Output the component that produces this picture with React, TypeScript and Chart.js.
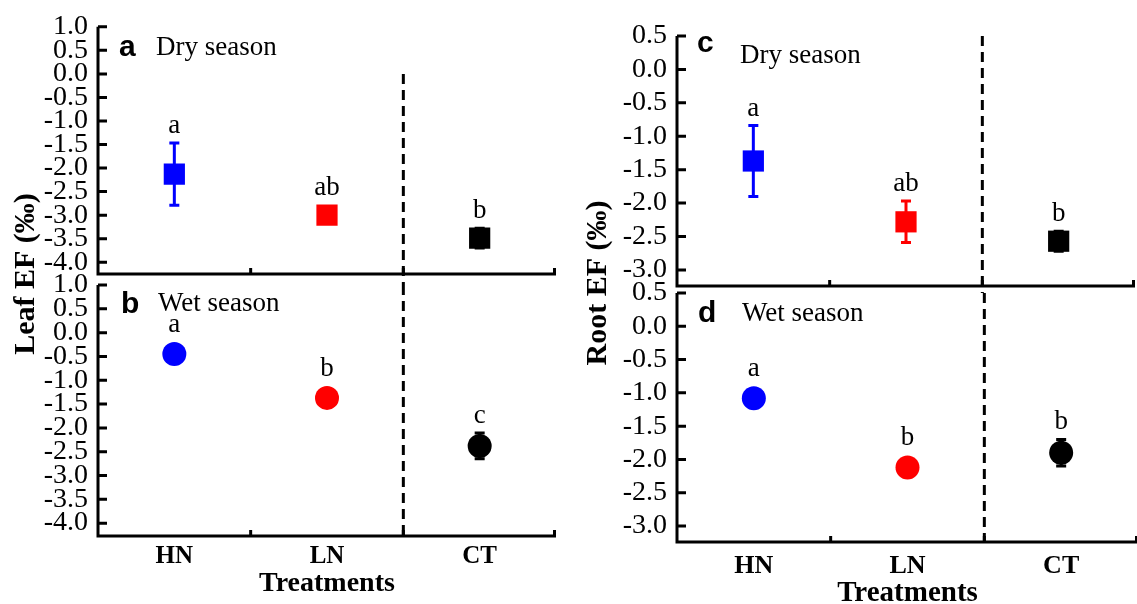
import React, { useEffect, useRef } from 'react';
import { Chart, registerables } from 'chart.js';

Chart.register(...registerables);

const SERIF = '"Liberation Serif", "Times New Roman", serif';
const SANS = '"Liberation Sans", Arial, sans-serif';

// ---- data ----
const treatments = ['HN', 'LN', 'CT'];
const pointColors = ['#0000ff', '#ff0000', '#000000'];

const leafDryMean = [-2.13, -3.0, -3.49];
const leafDryErr = [0.66, 0.15, 0.21];
const leafDryLetters = ['a', 'ab', 'b'];

const leafWetMean = [-0.45, -1.37, -2.38];
const leafWetErr = [0.12, 0.12, 0.27];
const leafWetLetters = ['a', 'b', 'c'];

const rootDryMean = [-1.37, -2.28, -2.57];
const rootDryErr = [0.53, 0.31, 0.15];
const rootDryLetters = ['a', 'ab', 'b'];

const rootWetMean = [-1.08, -2.12, -1.9];
const rootWetErr = [0.1, 0.1, 0.2];
const rootWetLetters = ['a', 'b', 'b'];

const leafTicks = [1.0, 0.5, 0.0, -0.5, -1.0, -1.5, -2.0, -2.5, -3.0, -3.5, -4.0];
const rootTicks = [0.5, 0.0, -0.5, -1.0, -1.5, -2.0, -2.5, -3.0];

const CW = 1150;
const CH = 630;

type Panel = {
  mean: number[];
  err: number[];
  letters: string[];
  ticks: number[];
  yMin: number;
  yMax: number;
  shape: 'rect' | 'circle';
  panelLetter: string;
  season: string;
  pad: { left: number; top: number; right: number; bottom: number };
  yWidth: number;
  xHeight: number;
  showX: boolean;
  xLabelPad: number;
  xLabelSize: number;
  titleSize: number;
  titlePadBottom: number;
  dashFrom: number | null;
  dashExtend: number;
  letterOff: [number, number];
  seasonOff: [number, number];
  yTitle?: { text: string; x: number; y: number };
};

const panels: Panel[] = [
  {
    mean: leafDryMean, err: leafDryErr, letters: leafDryLetters, ticks: leafTicks,
    yMin: -4.25, yMax: 1.0, shape: 'rect', panelLetter: 'a', season: 'Dry season',
    pad: { left: 0, top: 24, right: CW - 556, bottom: CH - 285 }, yWidth: 98, xHeight: 11,
    showX: false, xLabelPad: 6, xLabelSize: 25, titleSize: 28, titlePadBottom: 0,
    dashFrom: 0, dashExtend: 11, letterOff: [21, 29], seasonOff: [58, 28],
  },
  {
    mean: leafWetMean, err: leafWetErr, letters: leafWetLetters, ticks: leafTicks,
    yMin: -4.27, yMax: 1.0, shape: 'circle', panelLetter: 'b', season: 'Wet season',
    pad: { left: 0, top: 285, right: CW - 556, bottom: 0 }, yWidth: 98, xHeight: CH - 536,
    showX: true, xLabelPad: 6, xLabelSize: 25, titleSize: 28, titlePadBottom: 29,
    dashFrom: null, dashExtend: 0, letterOff: [23, 28], seasonOff: [60, 26],
    yTitle: { text: 'Leaf EF (‰)', x: 26, y: 274 },
  },
  {
    mean: rootDryMean, err: rootDryErr, letters: rootDryLetters, ticks: rootTicks,
    yMin: -3.24, yMax: 0.5, shape: 'rect', panelLetter: 'c', season: 'Dry season',
    pad: { left: 580, top: 36, right: 5, bottom: CH - 300 }, yWidth: 97, xHeight: 14,
    showX: false, xLabelPad: 9, xLabelSize: 26, titleSize: 29, titlePadBottom: 0,
    dashFrom: null, dashExtend: 7, letterOff: [20, 16], seasonOff: [63, 27],
  },
  {
    mean: rootWetMean, err: rootWetErr, letters: rootWetLetters, ticks: rootTicks,
    yMin: -3.24, yMax: 0.5, shape: 'circle', panelLetter: 'd', season: 'Wet season',
    pad: { left: 580, top: 293, right: 5, bottom: 0 }, yWidth: 97, xHeight: CH - 542,
    showX: true, xLabelPad: 9, xLabelSize: 26, titleSize: 29, titlePadBottom: 19,
    dashFrom: null, dashExtend: 0, letterOff: [21, 29], seasonOff: [65, 28],
    yTitle: { text: 'Root EF (‰)', x: 598, y: 283 },
  },
];

function makeDecor(p: Panel) {
  const markerHalf = p.shape === 'rect' ? 10.6 : 12;
  return {
    id: 'decor',
    beforeDatasetsDraw(chart: any) {
      const { ctx, chartArea } = chart;
      const { left, right, top, bottom } = chartArea;
      const xs = chart.scales.x;
      const ys = chart.scales.y;
      ctx.save();
      ctx.strokeStyle = '#000';
      ctx.lineWidth = 3;
      ctx.lineCap = 'butt';
      // axes
      ctx.beginPath();
      ctx.moveTo(left, top);
      ctx.lineTo(left, bottom + 1.5);
      ctx.moveTo(left - 1.5, bottom);
      ctx.lineTo(right, bottom);
      ctx.stroke();
      // y ticks (inward)
      ctx.beginPath();
      for (const v of p.ticks) {
        const y = ys.getPixelForValue(v);
        ctx.moveTo(left, y);
        ctx.lineTo(left + 9, y);
      }
      // x ticks (inward) at category boundaries
      for (let k = 0; k < treatments.length; k++) {
        let x = xs.getPixelForValue(k + 0.5);
        if (k === treatments.length - 1) x -= 1.5;
        ctx.moveTo(x, bottom);
        ctx.lineTo(x, bottom - 6);
      }
      ctx.stroke();
      // dashed separator between LN and CT
      const dx = xs.getPixelForValue(1.5);
      const y0 = p.dashFrom === null ? top : ys.getPixelForValue(p.dashFrom);
      ctx.setLineDash([10, 6]);
      ctx.beginPath();
      ctx.moveTo(dx, y0);
      ctx.lineTo(dx, bottom + p.dashExtend);
      ctx.stroke();
      ctx.setLineDash([]);
      // error bars
      p.mean.forEach((m, i) => {
        const x = xs.getPixelForValue(i);
        const yt = ys.getPixelForValue(m + p.err[i]);
        const yb = ys.getPixelForValue(m - p.err[i]);
        ctx.strokeStyle = pointColors[i];
        ctx.beginPath();
        ctx.moveTo(x, yt);
        ctx.lineTo(x, yb);
        ctx.moveTo(x - 5, yt);
        ctx.lineTo(x + 5, yt);
        ctx.moveTo(x - 5, yb);
        ctx.lineTo(x + 5, yb);
        ctx.stroke();
      });
      ctx.restore();
    },
    afterDatasetsDraw(chart: any) {
      const { ctx, chartArea } = chart;
      const xs = chart.scales.x;
      const ys = chart.scales.y;
      ctx.save();
      ctx.fillStyle = '#000';
      ctx.textBaseline = 'alphabetic';
      // significance letters
      ctx.font = `27px ${SERIF}`;
      ctx.textAlign = 'center';
      p.mean.forEach((m, i) => {
        const x = xs.getPixelForValue(i);
        const yt = Math.min(ys.getPixelForValue(m + p.err[i]), ys.getPixelForValue(m) - markerHalf);
        ctx.fillText(p.letters[i], x, yt - 10);
      });
      // panel letter and season
      ctx.textAlign = 'left';
      ctx.font = `bold 30px ${SANS}`;
      ctx.fillText(p.panelLetter, chartArea.left + p.letterOff[0], chartArea.top + p.letterOff[1]);
      ctx.font = `27px ${SERIF}`;
      ctx.fillText(p.season, chartArea.left + p.seasonOff[0], chartArea.top + p.seasonOff[1]);
      // shared y title
      if (p.yTitle) {
        ctx.translate(p.yTitle.x, p.yTitle.y);
        ctx.rotate(-Math.PI / 2);
        ctx.textAlign = 'center';
        ctx.textBaseline = 'middle';
        ctx.font = `bold 30px ${SERIF}`;
        ctx.fillText(p.yTitle.text, 0, 0);
      }
      ctx.restore();
    },
  };
}

function PanelChart({ p }: { p: Panel }) {
  const ref = useRef<HTMLCanvasElement | null>(null);
  useEffect(() => {
    if (!ref.current) return;
    const chart = new Chart(ref.current, {
      type: 'line',
      data: {
        labels: treatments,
        datasets: [
          {
            data: p.mean,
            showLine: false,
            pointStyle: p.shape,
            pointRadius: p.shape === 'rect' ? 15 : 12,
            pointHoverRadius: p.shape === 'rect' ? 15 : 12,
            pointBackgroundColor: pointColors,
            pointBorderColor: pointColors,
            pointBorderWidth: 0,
          },
        ],
      },
      options: {
        responsive: false,
        animation: false,
        events: [],
        layout: { padding: p.pad },
        plugins: { legend: { display: false }, tooltip: { enabled: false } },
        scales: {
          x: {
            type: 'category',
            offset: true,
            grid: { display: false, drawTicks: false },
            border: { display: false },
            ticks: {
              display: p.showX,
              padding: p.xLabelPad,
              autoSkip: false,
              maxRotation: 0,
              color: '#000',
              font: { family: SERIF, size: p.xLabelSize, weight: 'bold' },
            },
            title: {
              display: p.showX,
              text: 'Treatments',
              color: '#000',
              font: { family: SERIF, size: p.titleSize, weight: 'bold' },
              padding: { top: 0, bottom: p.titlePadBottom },
            },
            afterFit: (s: any) => {
              s.height = p.xHeight;
            },
          },
          y: {
            type: 'linear',
            min: p.yMin,
            max: p.yMax,
            grid: { display: false, drawTicks: false },
            border: { display: false },
            ticks: {
              padding: 10,
              autoSkip: false,
              color: '#000',
              font: { family: SERIF, size: 28 },
              callback: (v: any) => Number(v).toFixed(1),
            },
            afterBuildTicks: (s: any) => {
              s.ticks = p.ticks.map((v) => ({ value: v }));
            },
            afterFit: (s: any) => {
              s.width = p.yWidth;
            },
          },
        },
      } as any,
      plugins: [makeDecor(p)],
    });
    return () => chart.destroy();
  }, [p]);
  return (
    <canvas
      ref={ref}
      width={CW}
      height={CH}
      style={{ position: 'absolute', left: 0, top: 0, width: CW, height: CH, display: 'block' }}
    />
  );
}

export default function App() {
  return (
    <div
      style={{
        position: 'fixed',
        left: 0,
        top: 0,
        width: 1137,
        height: 604,
        overflow: 'hidden',
        background: '#fff',
      }}
    >
      {panels.map((p, i) => (
        <PanelChart key={i} p={p} />
      ))}
    </div>
  );
}
